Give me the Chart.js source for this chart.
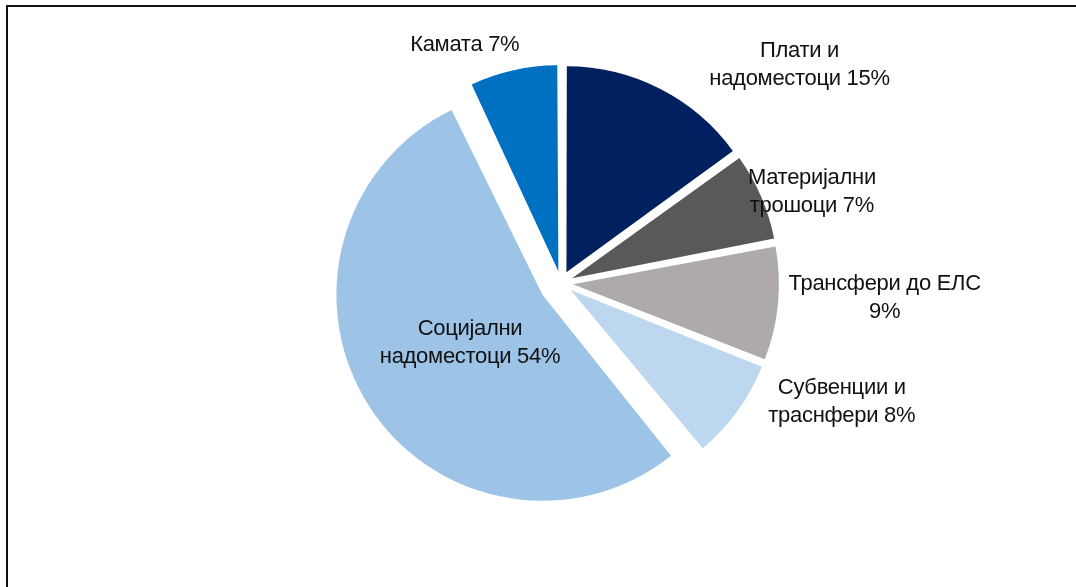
<!DOCTYPE html>
<html>
<head>
<meta charset="utf-8">
<script src="https://cdn.jsdelivr.net/npm/chart.js@4/dist/chart.umd.min.js"></script>
<style>
  html, body { margin: 0; padding: 0; background: #fff; overflow: hidden; }
  #wrap { position: relative; width: 1076px; height: 587px; }
  #frame {
    position: absolute; left: 6px; top: 5px; width: 1200px; height: 700px;
    border-top: 2px solid #111; border-left: 2px solid #111;
    pointer-events: none;
  }
</style>
</head>
<body>
<div id="wrap">
  <canvas id="pie" width="1076" height="587"></canvas>
  <div id="frame"></div>
</div>
<script>
// slices, clockwise from 12 o'clock
var categories = [
    ['Плати и', 'надоместоци 15%'],
    ['Материјални', 'трошоци 7%'],
    ['Трансфери до ЕЛС', '9%'],
    ['Субвенции и', 'траснфери 8%'],
    ['Социјални', 'надоместоци 54%'],
    ['Камата 7%']
];
var shares = [15, 7, 9, 8, 54, 7];

var sliceColors = ['#002060', '#595959', '#aeaaaa', '#bdd7ee', '#9dc3e6', '#0070c0'];
// chart.js v4 draws offset/4, so these give ~12px and ~22px
var sliceOffsets = [48, 48, 48, 48, 88, 48];
var pieRadius = 206;

// label spot: angle (deg, clockwise from top) and distance from pie centre
var labelSpots = [[47.6, 323], [70, 267], [92.7, 324], [113, 305], [236.6, 109], [338, 257]];

// chart.js grows exploded arcs by offset*(1-sin(circ)); undo that so all slices keep one radius
var sameRadius = {
    id: 'sameRadius',
    afterDatasetUpdate: function(chart, args) {
        args.meta.data.forEach(function(arc, i) {
            var off = sliceOffsets[i] / 4;
            var fix = 1 - Math.sin(Math.min(Math.PI, arc.circumference || 0));
            arc.outerRadius = pieRadius - off * fix;
        });
    }
};

var pieLabels = {
    id: 'pieLabels',
    afterDatasetsDraw: function(chart) {
        var ctx = chart.ctx;
        var meta = chart.getDatasetMeta(0);
        ctx.save();
        ctx.font = '22px "Liberation Sans", Arial, sans-serif';
        ctx.letterSpacing = '-0.3px';
        ctx.fillStyle = '#111';
        ctx.textAlign = 'center';
        ctx.textBaseline = 'middle';
        meta.data.forEach(function(arc, i) {
            var a = (labelSpots[i][0] - 90) * Math.PI / 180;
            var d = labelSpots[i][1];
            var x = arc.x + Math.cos(a) * d;
            var y = arc.y + Math.sin(a) * d;
            var lines = categories[i];
            var lh = 28;
            var y0 = y - (lines.length - 1) * lh / 2;
            lines.forEach(function(t, k) {
                ctx.fillText(t, x, y0 + k * lh);
            });
        });
        ctx.restore();
    }
};

var ctx = document.getElementById('pie').getContext('2d');
var chart = new Chart(ctx, {
    type: 'pie',
    data: {
        labels: categories.map(function(c) { return c.join(' '); }),
        datasets: [{
            data: shares,
            backgroundColor: sliceColors,
            borderWidth: 0,
            offset: sliceOffsets,
            radius: pieRadius
        }]
    },
    options: {
        responsive: false,
        animation: false,
        layout: { padding: { left: 66, right: 20, top: 20, bottom: 41 } },
        plugins: {
            legend: { display: false },
            tooltip: { enabled: false }
        }
    },
    plugins: [sameRadius, pieLabels]
});
</script>
</body>
</html>
